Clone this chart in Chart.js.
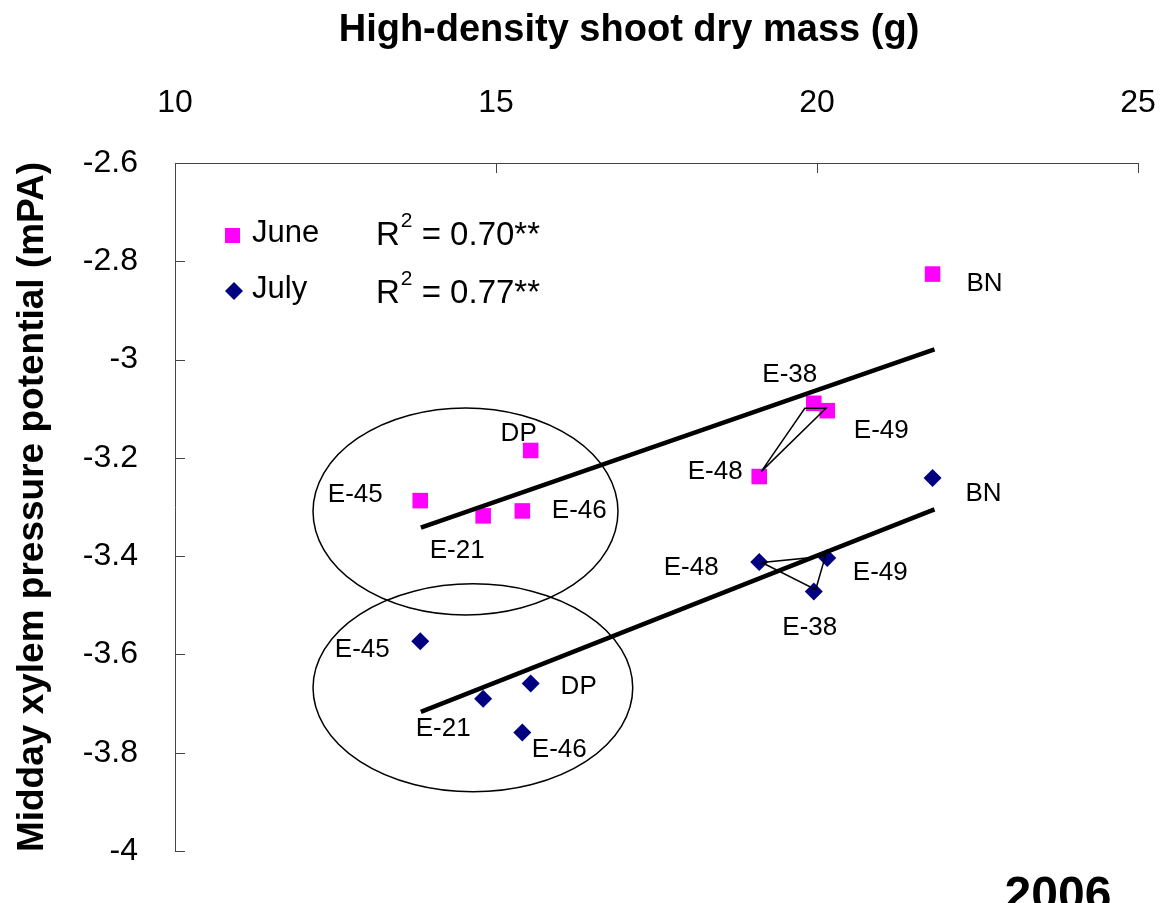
<!DOCTYPE html>
<html lang="en">
<head>
<meta charset="UTF-8">
<title>Xylem pressure vs shoot dry mass</title>
<script src="https://cdn.jsdelivr.net/npm/chart.js@4.4.0/dist/chart.umd.min.js"></script>
<style>
    body { margin: 0; background: #fff; }
    #box { width: 1163px; height: 903px; }
</style>
</head>
<body>
<div id="box"><canvas id="myChart" width="1163" height="903"></canvas></div>

<script type="text/javascript">
// genotypes, same order in every array below
var genotypes = ['BN', 'E-38', 'E-49', 'E-48', 'DP', 'E-45', 'E-21', 'E-46'];
var shootMass = [21.8, 19.95, 20.16, 19.1, 15.54, 13.82, 14.8, 15.41];
var junePotential = [-2.826, -3.089, -3.104, -3.238, -3.185, -3.287, -3.318, -3.308];
var julyPotential = [-3.241, -3.472, -3.404, -3.412, -3.659, -3.573, -3.690, -3.759];

// regression lines
var fitX = [13.83, 21.83];
var juneFitY = [-3.342, -2.979];
var julyFitY = [-3.717, -3.305];
var juneR2 = '0.70**';
var julyR2 = '0.77**';

// thin triangles joining E-48 / E-38 / E-49
var juneLinkX = [19.13, 19.81, 20.14, 19.13];
var juneLinkY = [-3.228, -3.099, -3.099, -3.228];
var julyLinkX = [19.14, 20.13, 19.98, 19.14];
var julyLinkY = [-3.413, -3.400, -3.468, -3.413];

// group ellipses (centre and radii in axis units)
var ellipseCx = [14.525, 14.64];
var ellipseCy = [-3.309, -3.668];
var ellipseRx = [2.375, 2.49];
var ellipseRy = [0.2106, 0.2116];

// axis ticks
var xTicks = [10, 15, 20, 25];
var yTicks = [-2.6, -2.8, -3, -3.2, -3.4, -3.6, -3.8, -4];

// label offsets in pixels from the marker
var juneLabelDx = [52, -24, 54, -44, -12, -65, -26, 57];
var juneLabelDy = [10, -28, 20, -5, -17, -6, 35, 0];
var julyLabelDx = [51, -4, 53, -68, 48, -58, -40, 37];
var julyLabelDy = [16, 36, 15, 6, 3, 9, 30, 17];

var FONT = "'Liberation Sans', Arial, sans-serif";
var JUNE_COLOR = '#FF00FF';
var JULY_COLOR = '#000080';

function pts(xs, ys) {
    var out = [];
    for (var i = 0; i < xs.length; i++) out.push({x: xs[i], y: ys[i]});
    return out;
}

// ellipses, tick marks, point labels, legend, top title
var decorations = {
    id: 'decorations',
    beforeDatasetsDraw: function(chart) {
        var ctx = chart.ctx, xs = chart.scales.x, ys = chart.scales.y;
        ctx.save();
        ctx.strokeStyle = '#000';
        ctx.lineWidth = 1.5;
        for (var i = 0; i < ellipseCx.length; i++) {
            var cx = xs.getPixelForValue(ellipseCx[i]);
            var cy = ys.getPixelForValue(ellipseCy[i]);
            var rx = xs.getPixelForValue(ellipseCx[i] + ellipseRx[i]) - cx;
            var ry = cy - ys.getPixelForValue(ellipseCy[i] + ellipseRy[i]);
            ctx.beginPath();
            ctx.ellipse(cx, cy, rx, ry, 0, 0, Math.PI * 2);
            ctx.stroke();
        }
        ctx.restore();
    },
    afterDatasetsDraw: function(chart) {
        var ctx = chart.ctx;
        ctx.save();
        ctx.fillStyle = '#000';
        ctx.font = '26px ' + FONT;
        ctx.textAlign = 'center';
        ctx.textBaseline = 'middle';
        var june = chart.getDatasetMeta(0).data;
        var july = chart.getDatasetMeta(1).data;
        for (var i = 0; i < genotypes.length; i++) {
            ctx.fillText(genotypes[i], june[i].x + juneLabelDx[i], june[i].y + juneLabelDy[i]);
            ctx.fillText(genotypes[i], july[i].x + julyLabelDx[i], july[i].y + julyLabelDy[i]);
        }
        ctx.restore();
    },
    afterDraw: function(chart) {
        var ctx = chart.ctx, xs = chart.scales.x, ys = chart.scales.y;
        var area = chart.chartArea;
        ctx.save();
        // inward tick marks
        ctx.strokeStyle = '#444';
        ctx.lineWidth = 1;
        ctx.beginPath();
        xTicks.forEach(function(v) {
            var px = Math.round(xs.getPixelForValue(v)) + 0.5;
            ctx.moveTo(px, area.top);
            ctx.lineTo(px, area.top + 10);
        });
        yTicks.forEach(function(v) {
            var py = Math.round(ys.getPixelForValue(v)) + 0.5;
            ctx.moveTo(area.left, py);
            ctx.lineTo(area.left + 10, py);
        });
        ctx.stroke();

        // top title
        ctx.fillStyle = '#000';
        ctx.font = 'bold 38px ' + FONT;
        ctx.textAlign = 'center';
        ctx.textBaseline = 'middle';
        ctx.fillText('High-density shoot dry mass (g)', 629, 31);

        // year
        ctx.font = 'bold 48px ' + FONT;
        ctx.textBaseline = 'alphabetic';
        ctx.fillText('2006', 1058, 910);

        // legend
        var lx = area.left, ly = area.top;
        ctx.fillStyle = JUNE_COLOR;
        ctx.fillRect(lx + 50, ly + 65, 15, 15);
        ctx.fillStyle = JULY_COLOR;
        ctx.beginPath();
        ctx.moveTo(lx + 59, ly + 119);
        ctx.lineTo(lx + 68, ly + 128);
        ctx.lineTo(lx + 59, ly + 137);
        ctx.lineTo(lx + 50, ly + 128);
        ctx.closePath();
        ctx.fill();

        ctx.fillStyle = '#000';
        ctx.textAlign = 'left';
        ctx.textBaseline = 'middle';
        ctx.font = '31px ' + FONT;
        ctx.fillText('June', lx + 77, ly + 70);
        ctx.fillText('July', lx + 77, ly + 126);

        var rows = [[juneR2, ly + 73], [julyR2, ly + 131]];
        rows.forEach(function(r) {
            var x = lx + 201;
            ctx.font = '33px ' + FONT;
            ctx.fillText('R', x, r[1]);
            x += ctx.measureText('R').width + 1;
            ctx.font = '21px ' + FONT;
            ctx.fillText('2', x, r[1] - 15);
            x += ctx.measureText('2').width;
            ctx.font = '33px ' + FONT;
            ctx.fillText(' = ' + r[0], x, r[1]);
        });
        ctx.restore();
    }
};

var data = {
    datasets: [
        {
            label: 'June',
            data: pts(shootMass, junePotential),
            backgroundColor: JUNE_COLOR,
            borderWidth: 0,
            pointStyle: 'rect',
            pointRadius: 11,
            order: 3
        },
        {
            label: 'July',
            data: pts(shootMass, julyPotential),
            backgroundColor: JULY_COLOR,
            borderWidth: 0,
            pointStyle: 'rectRot',
            pointRadius: 9,
            order: 3
        },
        {
            label: 'June fit',
            data: pts(fitX, juneFitY),
            showLine: true,
            borderColor: '#000',
            borderWidth: 4.5,
            pointRadius: 0,
            order: 2
        },
        {
            label: 'July fit',
            data: pts(fitX, julyFitY),
            showLine: true,
            borderColor: '#000',
            borderWidth: 4.5,
            pointRadius: 0,
            order: 2
        },
        {
            label: 'June link',
            data: pts(juneLinkX, juneLinkY),
            showLine: true,
            borderColor: '#000',
            borderWidth: 1.5,
            pointRadius: 0,
            order: 1
        },
        {
            label: 'July link',
            data: pts(julyLinkX, julyLinkY),
            showLine: true,
            borderColor: '#000',
            borderWidth: 1.5,
            pointRadius: 0,
            order: 1
        }
    ]
};

var config = {
    type: 'scatter',
    data: data,
    options: {
        responsive: false,
        animation: false,
        layout: { padding: { top: 0, left: 0, right: 25, bottom: 52 } },
        plugins: {
            legend: { display: false },
            tooltip: { enabled: false }
        },
        scales: {
            x: {
                type: 'linear',
                position: 'top',
                min: 10,
                max: 25,
                afterFit: function(scale) {
                    scale.height = 163;
                    scale.paddingLeft = 0;
                    scale.paddingRight = 0;
                },
                ticks: {
                    stepSize: 5,
                    color: '#000',
                    padding: 36,
                    font: { family: FONT, size: 32, lineHeight: 1 }
                },
                grid: { display: false },
                border: { display: true, color: '#444', width: 1 }
            },
            y: {
                type: 'linear',
                position: 'left',
                min: -4,
                max: -2.6,
                afterFit: function(scale) {
                    scale.width = 175;
                    scale.paddingTop = 0;
                    scale.paddingBottom = 0;
                },
                ticks: {
                    stepSize: 0.2,
                    color: '#000',
                    padding: 29,
                    font: { family: FONT, size: 32, lineHeight: 1 },
                    callback: function(v) { return String(Math.round(v * 10) / 10); }
                },
                title: {
                    display: true,
                    text: 'Midday xylem pressure potential (mPA)',
                    color: '#000',
                    padding: { top: 14, bottom: 0 },
                    font: { family: FONT, size: 37, weight: 'bold', lineHeight: 1 }
                },
                grid: { display: false },
                border: { display: true, color: '#444', width: 1 }
            }
        }
    },
    plugins: [decorations]
};

var myChart = new Chart(document.getElementById('myChart'), config);
</script>
</body>
</html>
